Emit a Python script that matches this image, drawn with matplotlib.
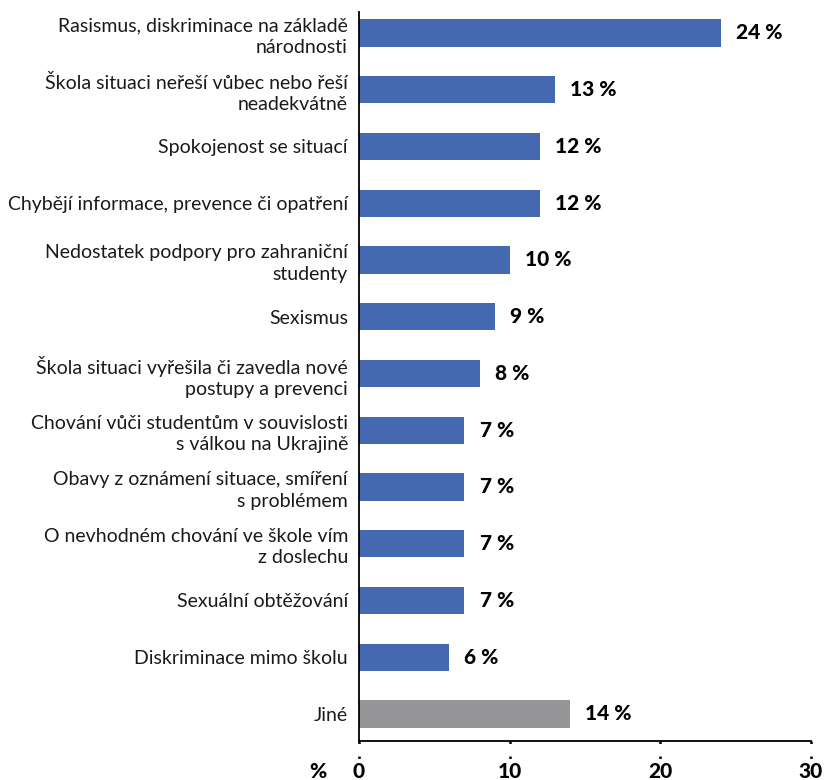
import matplotlib
matplotlib.use('Agg')
import matplotlib.pyplot as plt
import matplotlib.transforms as mtrans

categories = ['Rasismus, diskriminace na základě\nnárodnosti',
              'Škola situaci neřeší vůbec nebo řeší\nneadekvátně',
              'Spokojenost se situací',
              'Chybějí informace, prevence či opatření',
              'Nedostatek podpory pro zahraniční\nstudenty',
              'Sexismus',
              'Škola situaci vyřešila či zavedla nové\npostupy a prevenci',
              'Chování vůči studentům v souvislosti\ns válkou na Ukrajině',
              'Obavy z oznámení situace, smíření\ns problémem',
              'O nevhodném chování ve škole vím\nz doslechu',
              'Sexuální obtěžování',
              'Diskriminace mimo školu',
              'Jiné']
values = [24, 13, 12, 12, 10, 9, 8, 7, 7, 7, 7, 6, 14]
x_ticks = [0, 10, 20, 30]

blue = '#4469B0'
gray = '#959598'
bar_colors = [blue] * (len(values) - 1) + [gray]

plt.rcParams['font.family'] = ['Lato', 'DejaVu Sans']

fig = plt.figure(figsize=(8.27, 7.8), dpi=100)
ax = fig.add_axes([359 / 827, 1 - 741 / 780, (811 - 359) / 827, (741 - 12) / 780])

ypos = list(range(len(values)))
ax.barh(ypos, values, height=0.48, color=bar_colors)

for y, v in zip(ypos, values):
    ax.text(v + 1.0, y, f'{v} %', va='center', ha='left', fontsize=15,
            fontweight='black', color='black')

ax.set_xlim(0, 30)
ax.set_ylim(12.476, -0.37)
ax.set_yticks(ypos)
ax.set_yticklabels(categories, fontsize=14, linespacing=1.3, color='#1a1a1a')
ax.tick_params(axis='y', length=0, pad=8)

ax.set_xticks(x_ticks)
ax.set_xticklabels([str(t) for t in x_ticks], fontsize=15, fontweight='black')
ax.tick_params(axis='x', length=0, pad=15)

for s in ['top', 'right']:
    ax.spines[s].set_visible(False)
ax.spines['left'].set_linewidth(1.3)
ax.spines['bottom'].set_linewidth(1.3)

# dotted tick marks below the axis
trans = mtrans.blended_transform_factory(ax.transData, ax.transAxes)
for t in x_ticks:
    ax.plot([t, t], [0, -0.03], transform=trans, color='black', linestyle=(0, (1, 5)),
            linewidth=1.8, clip_on=False)

ax.text(-2.7, -0.0415, '%', transform=trans, ha='center', va='center', fontsize=15,
        fontweight='black')

fig.savefig('out.png', dpi=100)
